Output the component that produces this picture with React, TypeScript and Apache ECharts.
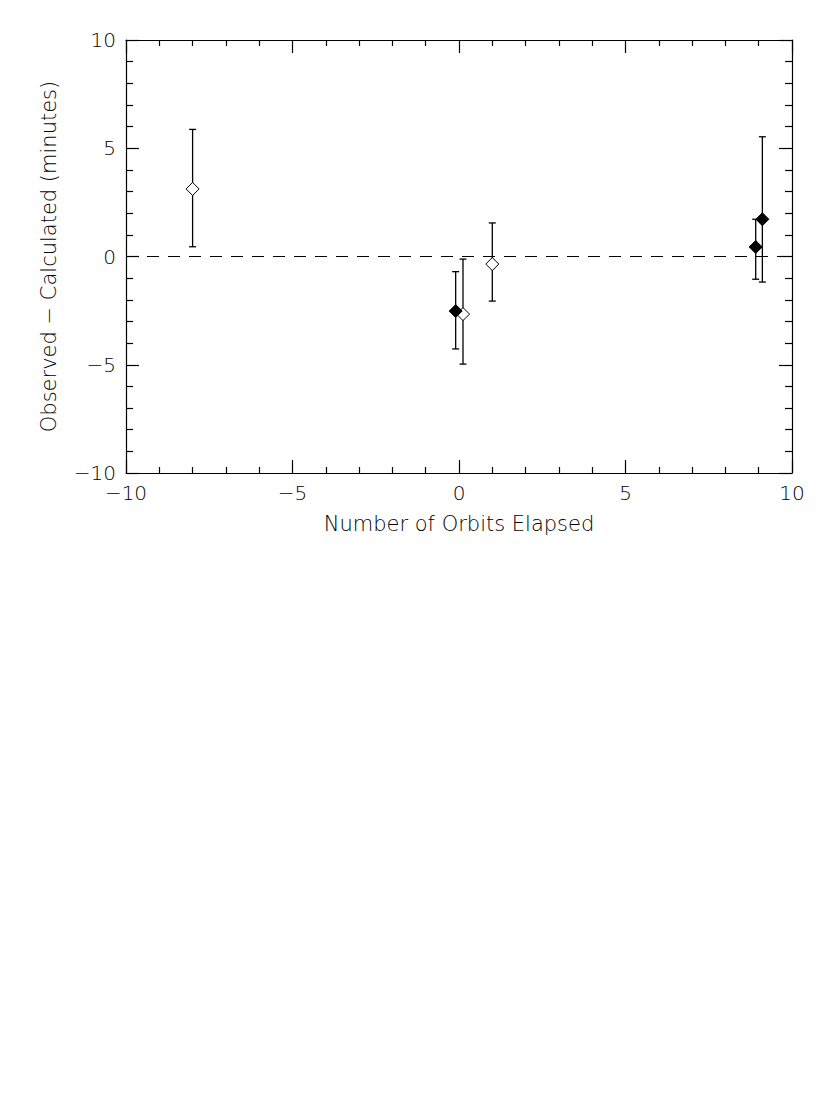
import React, { useEffect, useRef } from "react";
import * as echarts from "echarts";

// Open diamonds
const openX = [-8.0, 0.12, 1.0];
const openY = [3.12, -2.66, -0.35];
const openLo = [0.45, -4.97, -2.06];
const openHi = [5.87, -0.12, 1.55];

// Filled diamonds
const fillX = [-0.1, 8.91, 9.11];
const fillY = [-2.52, 0.44, 1.72];
const fillLo = [-4.27, -1.05, -1.18];
const fillHi = [-0.7, 1.72, 5.53];

const xTicks = [-10, -5, 0, 5, 10];
const yTicks = [-10, -5, 0, 5, 10];

const FONT = "DejaVu Sans";

const fmt = (v: number) => (v < 0 ? "\u2212" + Math.abs(v) : String(v));

export default function App() {
  const ref = useRef<HTMLDivElement>(null);
  useEffect(() => {
    if (!ref.current) return;
    const chart = echarts.init(ref.current, null, { renderer: "svg" });
    const errData = [
      ...openX.map((x, i) => [x, openLo[i], openHi[i]]),
      ...fillX.map((x, i) => [x, fillLo[i], fillHi[i]]),
    ];
    const axisCommon = {
      type: "value" as const,
      min: -10,
      max: 10,
      interval: 5,
      splitLine: { show: false },
      axisLine: { show: true, onZero: false, lineStyle: { color: "#000", width: 1.2 } },
      axisTick: { show: true, inside: true, length: 13, lineStyle: { color: "#000", width: 1.2 } },
      minorTick: { show: true, splitNumber: 5, length: 6, lineStyle: { color: "#000", width: 1.2 } },
    };
    const labelStyle = {
      color: "#000",
      fontFamily: FONT,
      fontWeight: 200 as any,
      fontSize: 20,
      formatter: (v: number) => (xTicks.includes(v) || yTicks.includes(v) ? fmt(v) : ""),
    };
    const nameStyle = { color: "#000", fontFamily: FONT, fontWeight: 200 as any, fontSize: 21 };
    chart.setOption({
      animation: false,
      backgroundColor: "#fff",
      grid: { left: 126, right: 38, top: 40, bottom: 634, containLabel: false },
      xAxis: [
        {
          ...axisCommon,
          position: "bottom",
          axisLabel: { ...labelStyle, margin: 10 },
          name: "Number of Orbits Elapsed",
          nameLocation: "middle",
          nameGap: 40,
          nameTextStyle: nameStyle,
        },
        { ...axisCommon, position: "top", axisLabel: { show: false } },
      ],
      yAxis: [
        {
          ...axisCommon,
          position: "left",
          minorTick: { ...axisCommon.minorTick, length: 7 },
          axisLabel: { ...labelStyle, margin: 10 },
          name: "Observed \u2212 Calculated (minutes)",
          nameLocation: "middle",
          nameGap: 67,
          nameTextStyle: nameStyle,
        },
        {
          ...axisCommon,
          position: "right",
          minorTick: { ...axisCommon.minorTick, length: 7 },
          axisLabel: { show: false },
        },
      ],
      series: [
        {
          type: "line",
          data: [
            [-10, 0],
            [10, 0],
          ],
          symbol: "none",
          lineStyle: { color: "#000", width: 1.2, type: [12, 9] },
          z: 1,
        },
        {
          type: "custom",
          data: errData,
          z: 2,
          renderItem: (params: any, api: any) => {
            const x = api.value(0);
            const lo = api.coord([x, api.value(1)]);
            const hi = api.coord([x, api.value(2)]);
            const cw = 3.5;
            const st = { stroke: "#000", lineWidth: 1.3 };
            return {
              type: "group",
              children: [
                { type: "line", shape: { x1: lo[0], y1: lo[1], x2: hi[0], y2: hi[1] }, style: st },
                { type: "line", shape: { x1: lo[0] - cw, y1: lo[1], x2: lo[0] + cw, y2: lo[1] }, style: st },
                { type: "line", shape: { x1: hi[0] - cw, y1: hi[1], x2: hi[0] + cw, y2: hi[1] }, style: st },
              ],
            };
          },
        },
        {
          type: "scatter",
          data: openX.map((x, i) => [x, openY[i]]),
          symbol: "diamond",
          symbolSize: [13, 13],
          itemStyle: { color: "#fff", borderColor: "#000", borderWidth: 1, opacity: 1 },
          z: 3,
        },
        {
          type: "scatter",
          data: fillX.map((x, i) => [x, fillY[i]]),
          symbol: "diamond",
          symbolSize: [13, 13],
          itemStyle: { color: "#000", borderColor: "#000", borderWidth: 1, opacity: 1 },
          z: 3,
        },
      ],
    });
    return () => chart.dispose();
  }, []);
  return <div ref={ref} style={{ width: 830, height: 1107, marginLeft: -8, marginTop: -8 }} />;
}
